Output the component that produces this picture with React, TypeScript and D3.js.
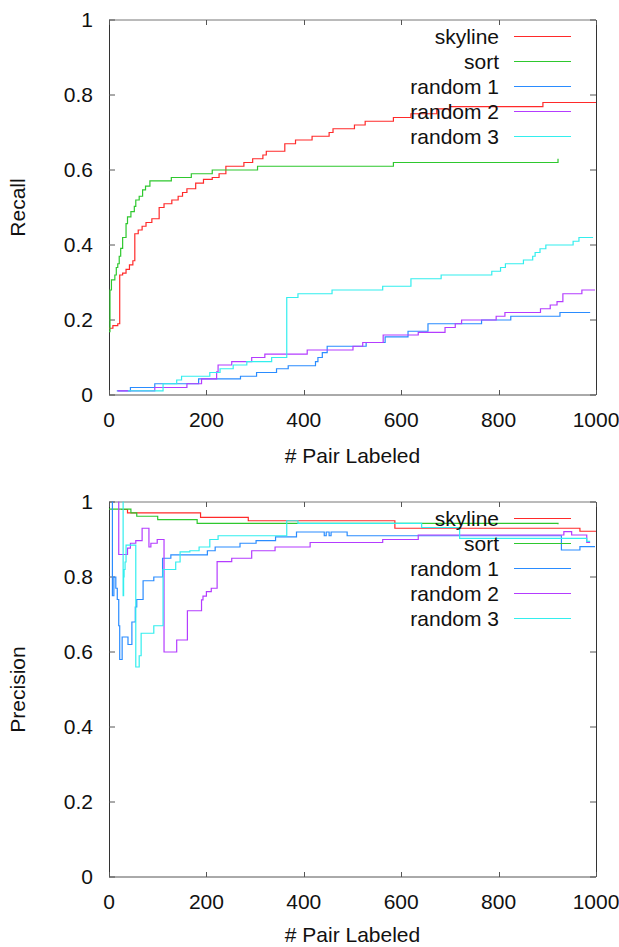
import React from 'react';
import * as d3 from 'd3';

const W = 619;
const H = 947;

const seriesNames = ['skyline', 'sort', 'random 1', 'random 2', 'random 3'];
const seriesColors = ['#ff2a2a', '#2ec82e', '#2a8cff', '#b43cff', '#33eeee'];

const xTicks = [0, 200, 400, 600, 800, 1000];
const yTicks = [0, 0.2, 0.4, 0.6, 0.8, 1];
const yTickLabels = ['0', '0.2', '0.4', '0.6', '0.8', '1'];

// recall: [# pair labeled, recall]
const skylineRecall = [
  [0, 0.178], [8, 0.185], [18, 0.19], [22, 0.32], [28, 0.325], [35, 0.335], [42, 0.347],
  [49, 0.358], [53, 0.43], [60, 0.44], [68, 0.45], [76, 0.46], [88, 0.47], [103, 0.5],
  [113, 0.51], [129, 0.52], [142, 0.53], [151, 0.54], [160, 0.55], [178, 0.565], [194, 0.575],
  [212, 0.58], [226, 0.59], [240, 0.61], [277, 0.62], [295, 0.63], [316, 0.64], [323, 0.65],
  [361, 0.67], [383, 0.68], [417, 0.69], [452, 0.7], [460, 0.71], [504, 0.72], [526, 0.73],
  [584, 0.74], [620, 0.75], [673, 0.763], [700, 0.769], [891, 0.78], [1000, 0.78],
];
const sortRecall = [
  [0, 0.169], [2, 0.28], [5, 0.307], [12, 0.32], [15, 0.34], [18, 0.35], [21, 0.37],
  [24, 0.391], [28, 0.42], [35, 0.457], [38, 0.475], [45, 0.489], [52, 0.503], [55, 0.52],
  [62, 0.53], [69, 0.547], [75, 0.557], [84, 0.571], [128, 0.58], [169, 0.59], [212, 0.6],
  [305, 0.61], [584, 0.62], [922, 0.63],
];
const random1Recall = [
  [16, 0.011], [44, 0.02], [94, 0.03], [184, 0.043], [270, 0.05], [303, 0.06], [344, 0.07],
  [368, 0.078], [424, 0.089], [429, 0.1], [438, 0.113], [448, 0.13], [528, 0.14], [567, 0.155],
  [614, 0.17], [655, 0.19], [765, 0.2], [825, 0.21], [926, 0.22], [988, 0.22],
];
const random2Recall = [
  [18, 0.011], [94, 0.02], [160, 0.03], [190, 0.043], [221, 0.062], [224, 0.08], [252, 0.089],
  [293, 0.1], [320, 0.109], [407, 0.12], [501, 0.13], [521, 0.14], [563, 0.16], [635, 0.167],
  [690, 0.18], [711, 0.19], [724, 0.2], [795, 0.21], [813, 0.22], [886, 0.23], [906, 0.24],
  [920, 0.249], [932, 0.27], [971, 0.28], [998, 0.28],
];
const random3Recall = [
  [39, 0.011], [111, 0.03], [139, 0.04], [149, 0.05], [207, 0.06], [228, 0.07], [255, 0.08],
  [283, 0.089], [334, 0.1], [365, 0.26], [388, 0.27], [458, 0.28], [562, 0.29], [620, 0.31],
  [682, 0.32], [786, 0.33], [804, 0.34], [814, 0.35], [851, 0.36], [870, 0.37], [875, 0.38],
  [885, 0.39], [897, 0.4], [953, 0.41], [965, 0.42], [994, 0.42],
];

// precision: [# pair labeled, precision]
const skylinePrecision = [
  [25, 0.98], [38, 0.971], [188, 0.959], [286, 0.95], [587, 0.93], [967, 0.922], [1000, 0.922],
];
const sortPrecision = [
  [0, 0.981], [45, 0.971], [57, 0.962], [100, 0.953], [181, 0.943], [922, 0.941],
];
const random1Precision = [
  [6, 1.0], [7, 0.75], [10, 0.8], [14, 0.77], [17, 0.74], [20, 0.67], [22, 0.58], [27, 0.64],
  [39, 0.62], [47, 0.68], [54, 0.72], [57, 0.74], [70, 0.79], [92, 0.8], [110, 0.85],
  [127, 0.859], [202, 0.87], [218, 0.88], [269, 0.89], [302, 0.897], [342, 0.907], [385, 0.92],
  [442, 0.91], [446, 0.92], [452, 0.91], [456, 0.92], [489, 0.91], [929, 0.872], [967, 0.881],
  [998, 0.881],
];
const random2Precision = [
  [19, 1.0], [20, 0.86], [38, 0.877], [44, 0.89], [55, 0.897], [68, 0.93], [82, 0.88],
  [86, 0.89], [99, 0.9], [113, 0.6], [139, 0.632], [161, 0.71], [190, 0.739], [193, 0.749],
  [200, 0.761], [210, 0.77], [222, 0.841], [252, 0.85], [293, 0.87], [341, 0.88], [413, 0.892],
  [562, 0.9], [635, 0.912], [934, 0.921], [950, 0.912], [981, 0.892], [988, 0.892],
];
const random3Precision = [
  [28, 1.0], [29, 0.75], [30, 0.8], [31, 0.82], [33, 0.84], [35, 0.885], [55, 0.56],
  [62, 0.59], [66, 0.65], [92, 0.67], [111, 0.82], [137, 0.84], [146, 0.867], [166, 0.87],
  [185, 0.88], [207, 0.9], [224, 0.91], [365, 0.95], [388, 0.943], [642, 0.932], [720, 0.903],
  [981, 0.895], [988, 0.895],
];

const recallSeries = [skylineRecall, sortRecall, random1Recall, random2Recall, random3Recall];
const precisionSeries = [skylinePrecision, sortPrecision, random1Precision, random2Precision, random3Precision];

const FONT = "'Liberation Sans', Arial, sans-serif";
const FS = 21;

const left = 109;
const right = 596;
const plotH = 375;

const x = d3.scaleLinear().domain([0, 1000]).range([left, right]);

function Panel({ top, yLabel, series }: { top: number; yLabel: string; series: number[][][] }) {
  const bottom = top + plotH;
  const y = d3.scaleLinear().domain([0, 1]).range([bottom, top]);
  const line = d3.line<number[]>()
    .x(d => x(d[0]))
    .y(d => y(d[1]))
    .curve(d3.curveStepAfter);
  const axisColor = '#333';
  // keep the bottom title inside the page
  const titleY = Math.min(bottom + 68, H - 5);

  return (
    <g>
      {/* border */}
      <line x1={left} x2={right} y1={top} y2={top} stroke="#777" strokeWidth={1} />
      <line x1={left} x2={right} y1={bottom} y2={bottom} stroke="#555" strokeWidth={1} />
      <line x1={left + 0.5} x2={left + 0.5} y1={top} y2={bottom} stroke={axisColor} strokeWidth={1} />
      <line x1={right + 0.5} x2={right + 0.5} y1={top} y2={bottom} stroke={axisColor} strokeWidth={1} />

      {/* ticks */}
      {yTicks.map((t, i) => (
        <g key={'y' + i}>
          <line x1={left} x2={left + 6} y1={y(t)} y2={y(t)} stroke="#555" />
          <line x1={right - 6} x2={right} y1={y(t)} y2={y(t)} stroke="#555" />
          <text x={93} y={y(t)} dy="0.35em" textAnchor="end" fontFamily={FONT} fontSize={FS} fill="#111">
            {yTickLabels[i]}
          </text>
        </g>
      ))}
      {xTicks.map((t, i) => (
        <g key={'x' + i}>
          <line x1={Math.round(x(t)) + 0.5} x2={Math.round(x(t)) + 0.5} y1={bottom} y2={bottom - 5} stroke="#555" />
          <line x1={Math.round(x(t)) + 0.5} x2={Math.round(x(t)) + 0.5} y1={top} y2={top + 5} stroke="#555" />
          <text x={x(t)} y={bottom + 32} textAnchor="middle" fontFamily={FONT} fontSize={FS} fill="#111">
            {t}
          </text>
        </g>
      ))}

      {/* axis titles */}
      <text x={(left + right) / 2} y={titleY} textAnchor="middle" fontFamily={FONT} fontSize={FS} fill="#111">
        # Pair Labeled
      </text>
      <text
        transform={`translate(25,${(top + bottom) / 2}) rotate(-90)`}
        textAnchor="middle"
        fontFamily={FONT}
        fontSize={FS}
        fill="#111"
      >
        {yLabel}
      </text>

      {/* series */}
      {series.map((s, i) => (
        <path key={'s' + i} d={line(s) || ''} fill="none" stroke={seriesColors[i]} strokeWidth={1.2} />
      ))}

      {/* legend */}
      {seriesNames.map((name, i) => {
        const ly = top + 16.5 + i * 25;
        return (
          <g key={'l' + i}>
            <text x={499} y={ly} dy="0.35em" textAnchor="end" fontFamily={FONT} fontSize={FS} fill="#111">
              {name}
            </text>
            <line x1={514} x2={571} y1={ly} y2={ly} stroke={seriesColors[i]} strokeWidth={1.2} />
          </g>
        );
      })}
    </g>
  );
}

export default function App() {
  return (
    <svg
      width={W}
      height={H}
      style={{ position: 'absolute', left: 0, top: 0, background: '#fff' }}
    >
      <rect width={W} height={H} fill="#fff" />
      <Panel top={20} yLabel="Recall" series={recallSeries} />
      <Panel top={502} yLabel="Precision" series={precisionSeries} />
    </svg>
  );
}
